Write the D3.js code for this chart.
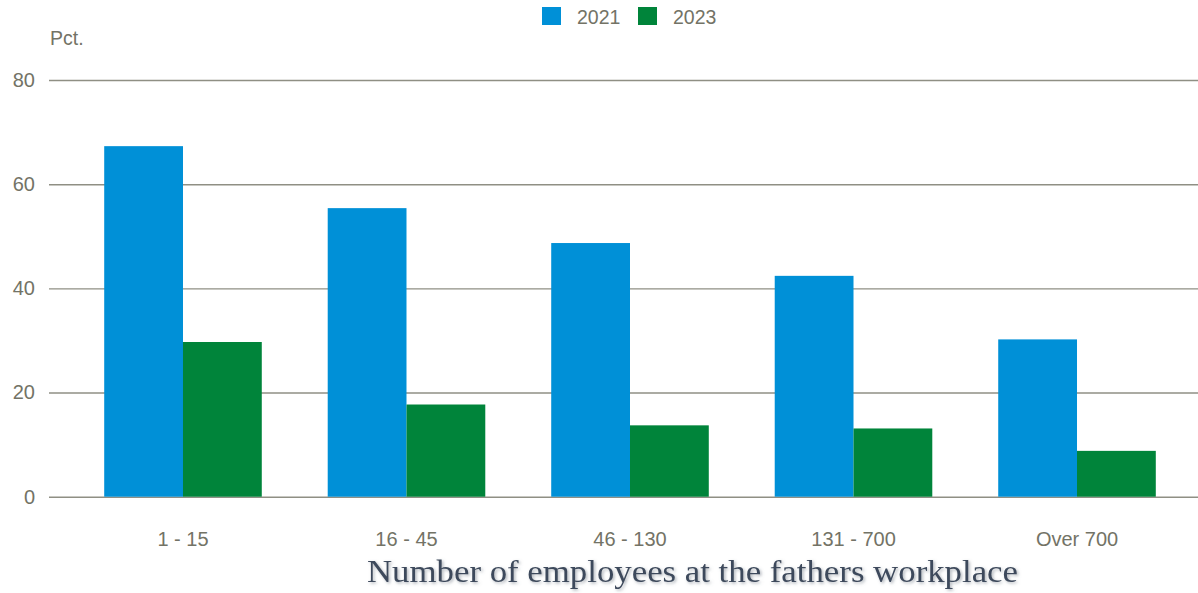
<!DOCTYPE html>
<html>
<head>
<meta charset="utf-8">
<script src="https://cdn.jsdelivr.net/npm/d3@7"></script>
<style>
  html, body { margin: 0; padding: 0; background: #fff; }
  svg { display: block; }
</style>
</head>
<body>
<svg id="chart" width="1198" height="593"></svg>
<script>
const categories = ["1 - 15", "16 - 45", "46 - 130", "131 - 700", "Over 700"];
const seriesNames = ["2021", "2023"];
const values2021 = [67.3, 55.4, 48.7, 42.4, 30.2];
const values2023 = [29.7, 17.7, 13.7, 13.1, 8.8];
const yTicks = [0, 20, 40, 60, 80];
const colors = ["#0090d7", "#00843a"];
const yLabel = "Pct.";
const xTitle = "Number of employees at the fathers workplace";

const svg = d3.select("#chart");
const textColor = "#737366";
const gridColor = "#8f8f84";
const sans = "Liberation Sans, Arial, sans-serif";

const x0 = d3.scaleBand().domain(categories).range([49, 1211]).paddingInner(0.295).paddingOuter(0.247);
const x1 = d3.scaleBand().domain(seriesNames).range([0, x0.bandwidth()]);
const y = d3.scaleLinear().domain([0, 80]).range([496.7, 80]);

// grid
const yAxis = d3.axisLeft(y).tickValues(yTicks).tickSize(-(1198 - 49)).tickPadding(14);
const gy = svg.append("g").attr("transform", "translate(49,0)").call(yAxis);
gy.select(".domain").remove();
gy.selectAll(".tick line").attr("stroke", gridColor).attr("stroke-width", 1.4);
gy.selectAll(".tick text").attr("fill", textColor).attr("font-family", sans).attr("font-size", 20).attr("x", -14);

// bars
const rows = categories.map((c, i) => ({ cat: c, vals: [values2021[i], values2023[i]] }));
const groups = svg.append("g").selectAll("g").data(rows).join("g")
  .attr("transform", d => `translate(${x0(d.cat)},0)`);
groups.selectAll("rect").data(d => d.vals.map((v, j) => ({ s: seriesNames[j], v, j })))
  .join("rect")
  .attr("x", d => x1(d.s))
  .attr("width", x1.bandwidth())
  .attr("y", d => y(d.v))
  .attr("height", d => y(0) - y(d.v))
  .attr("fill", d => colors[d.j]);

// x labels
const xAxis = d3.axisBottom(x0).tickSize(0).tickPadding(0);
const gx = svg.append("g").attr("transform", "translate(0,496.7)").call(xAxis);
gx.select(".domain").remove();
gx.selectAll(".tick text").attr("fill", textColor).attr("font-family", sans).attr("font-size", 20).attr("dy", 0).attr("y", 49.5);

// y label
svg.append("text").attr("x", 50).attr("y", 45).text(yLabel)
  .attr("fill", textColor).attr("font-family", sans).attr("font-size", 19.5);

// legend
const legend = svg.append("g");
const legX = [542, 638];
seriesNames.forEach((s, i) => {
  legend.append("rect").attr("x", legX[i]).attr("y", 7).attr("width", 19).attr("height", 18).attr("fill", colors[i]);
  legend.append("text").attr("x", legX[i] + 35).attr("y", 24).text(s)
    .attr("fill", textColor).attr("font-family", sans).attr("font-size", 19.5);
});

// x title with soft shadow
const defs = svg.append("defs");
const f = defs.append("filter").attr("id", "shadow").attr("x", "-5%").attr("y", "-30%").attr("width", "110%").attr("height", "160%");
f.append("feDropShadow").attr("dx", 1.5).attr("dy", 1.5).attr("stdDeviation", 1.5).attr("flood-color", "#6a7280").attr("flood-opacity", 0.55);
svg.append("text").attr("x", 367).attr("y", 582).text(xTitle)
  .attr("fill", "#3e4a5c").attr("font-family", "Liberation Serif, Times New Roman, serif").attr("font-size", 31)
  .attr("textLength", 651).attr("lengthAdjust", "spacingAndGlyphs")
  .attr("filter", "url(#shadow)");
</script>
</body>
</html>
